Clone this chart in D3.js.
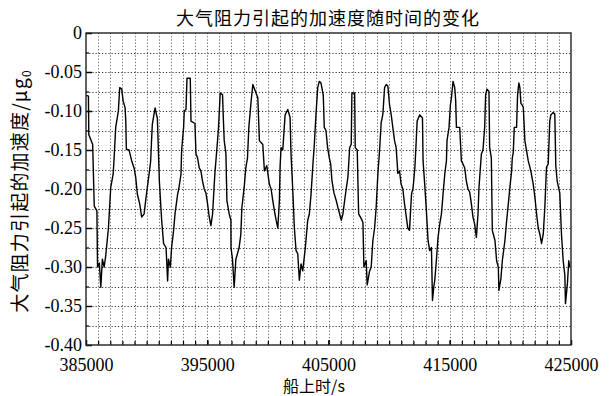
<!DOCTYPE html>
<html>
<head>
<meta charset="utf-8">
<script src="https://cdn.jsdelivr.net/npm/d3@7/dist/d3.min.js"></script>
<style>
  html, body { margin: 0; padding: 0; background: #fff; }
  svg { display: block; }
</style>
</head>
<body>
<svg id="chart" width="612" height="396"></svg>
<script>
// ---- data ----
const times = [
385050,385200,385230,385550,385680,385900,385950,386100,386220,386350,386500,386630,386850,387040,387240,387320,387450,387670,387780,387950,
388060,388225,388280,388330,388550,388770,388965,389100,389240,389430,389590,389790,389920,390060,390330,390400,390470,390610,390700,390800,
390885,391000,391050,391240,391400,391600,391680,391730,391800,391955,392060,392225,392340,392555,392650,392835,392885,393050,393105,393245,
393330,393600,393660,393985,394070,394200,394340,394480,394610,394753,394890,395025,395164,395300,395440,395520,395630,395850,395930,396070,
396260,396340,396400,396540,396620,396810,396950,396960,397080,397220,397360,397490,397630,397770,397855,398045,398180,398320,398430,398620,
398760,398975,399170,399300,399580,399715,399910,400125,400265,400405,400540,400680,400820,400950,401010,401090,401230,401420,401640,401830,
401910,402050,402185,402325,402465,402595,402735,402875,403090,403285,403420,403560,403700,403830,403970,404110,404240,404380,404570,404650,
404790,404930,405065,405180,405290,405450,405640,405780,405920,406050,406190,406330,406460,406600,406745,406875,406930,407155,407205,407370,
407485,407700,407840,407920,408110,408190,408390,408520,408660,408800,408930,409070,409210,409345,409485,409625,409755,409895,410035,410165,
410445,410580,410720,410860,410990,411130,411270,411540,411680,411845,411980,412120,412200,412310,412390,412530,412750,412800,412940,413080,
413210,413350,413490,413575,413680,413765,413900,414035,414175,414315,414445,414590,414725,414775,414940,415055,415140,415270,415410,415490,
415550,415820,415960,416095,416235,416370,416505,416645,416785,416915,417055,417195,417330,417410,417525,417610,417740,417880,417960,418070,
418235,418290,418430,418510,418595,418730,418865,419005,419055,419220,419335,419550,419690,419830,419960,420100,420160,420240,420320,420510,
420595,420700,420785,420870,421065,421145,421195,421475,421690,421885,422020,422160,422300,422430,422570,422710,422840,422980,423120,423250,
423335,423530,423665,423745,423860,423945,424075,424215,424355,424490,424545,424710,424815,424900
];
const accel = [
-0.080,-0.081,-0.130,-0.143,-0.222,-0.228,-0.300,-0.295,-0.326,-0.290,-0.300,-0.285,-0.250,-0.198,-0.181,-0.160,-0.121,-0.100,-0.070,-0.072,
-0.087,-0.096,-0.113,-0.149,-0.150,-0.164,-0.173,-0.185,-0.207,-0.219,-0.236,-0.232,-0.215,-0.198,-0.165,-0.140,-0.117,-0.104,-0.096,-0.104,
-0.109,-0.165,-0.190,-0.240,-0.270,-0.275,-0.300,-0.318,-0.290,-0.300,-0.275,-0.253,-0.232,-0.207,-0.200,-0.181,-0.151,-0.121,-0.100,-0.098,
-0.058,-0.058,-0.113,-0.116,-0.155,-0.160,-0.173,-0.177,-0.190,-0.200,-0.205,-0.219,-0.236,-0.247,-0.232,-0.210,-0.180,-0.138,-0.121,-0.077,
-0.079,-0.115,-0.138,-0.155,-0.215,-0.232,-0.240,-0.275,-0.290,-0.326,-0.290,-0.283,-0.275,-0.258,-0.224,-0.198,-0.173,-0.160,-0.121,-0.087,
-0.066,-0.075,-0.083,-0.138,-0.143,-0.177,-0.170,-0.194,-0.200,-0.215,-0.228,-0.240,-0.250,-0.215,-0.170,-0.147,-0.150,-0.105,-0.098,-0.108,
-0.155,-0.200,-0.250,-0.279,-0.283,-0.317,-0.296,-0.305,-0.275,-0.240,-0.232,-0.207,-0.172,-0.143,-0.104,-0.070,-0.062,-0.064,-0.080,-0.121,
-0.125,-0.147,-0.160,-0.168,-0.190,-0.205,-0.215,-0.224,-0.232,-0.240,-0.232,-0.215,-0.200,-0.185,-0.147,-0.143,-0.077,-0.077,-0.147,-0.150,
-0.232,-0.238,-0.243,-0.300,-0.292,-0.323,-0.305,-0.300,-0.266,-0.250,-0.224,-0.181,-0.151,-0.115,-0.104,-0.070,-0.066,-0.068,-0.092,-0.104,
-0.138,-0.147,-0.180,-0.177,-0.194,-0.200,-0.219,-0.250,-0.253,-0.207,-0.198,-0.173,-0.150,-0.113,-0.110,-0.105,-0.109,-0.164,-0.195,-0.230,
-0.266,-0.279,-0.275,-0.343,-0.326,-0.317,-0.291,-0.262,-0.245,-0.232,-0.207,-0.181,-0.164,-0.138,-0.121,-0.092,-0.083,-0.062,-0.070,-0.087,
-0.121,-0.121,-0.164,-0.168,-0.173,-0.190,-0.200,-0.204,-0.219,-0.236,-0.245,-0.262,-0.232,-0.198,-0.173,-0.155,-0.150,-0.121,-0.079,-0.072,
-0.075,-0.147,-0.160,-0.253,-0.258,-0.266,-0.292,-0.300,-0.330,-0.315,-0.292,-0.266,-0.241,-0.219,-0.198,-0.177,-0.160,-0.153,-0.121,-0.121,
-0.079,-0.064,-0.070,-0.090,-0.095,-0.121,-0.138,-0.164,-0.177,-0.194,-0.210,-0.232,-0.250,-0.258,-0.270,-0.258,-0.224,-0.172,-0.168,-0.113,
-0.105,-0.102,-0.104,-0.170,-0.190,-0.196,-0.205,-0.258,-0.292,-0.310,-0.347,-0.320,-0.292,-0.300
];
const xTickValues = [385000, 395000, 405000, 415000, 425000];
const xTickLabels = ["385000", "395000", "405000", "415000", "425000"];
const yTickValues = [0, -0.05, -0.10, -0.15, -0.20, -0.25, -0.30, -0.35, -0.40];
const yTickLabels = ["0", "-0.05", "-0.10", "-0.15", "-0.20", "-0.25", "-0.30", "-0.35", "-0.40"];
const titleText = "大气阻力引起的加速度随时间的变化";
const xLabel = "船上时/s";
const yLabel = "大气阻力引起的加速度/μg";
const yLabelSub = "0";

// ---- layout ----
const L = 86, R = 571, T = 33, B = 345;
const svg = d3.select("#chart");
const x = d3.scaleLinear().domain([385000, 425000]).range([L, R]);
const y = d3.scaleLinear().domain([-0.40, 0]).range([B, T]);

// grid
const gx = d3.range(386000, 425000, 1000);
const gy = d3.range(1, 16).map(i => -0.025 * i);
const grid = svg.append("g").attr("stroke", "#333").attr("stroke-width", 1)
  .attr("stroke-dasharray", "1.2,2").attr("fill", "none");
grid.selectAll("line.v").data(gx).join("line").attr("class", "v")
  .attr("x1", d => Math.round(x(d)) + 0.5).attr("x2", d => Math.round(x(d)) + 0.5)
  .attr("y1", T).attr("y2", B).attr("stroke", "#666");
grid.selectAll("line.h").data(gy).join("line").attr("class", "h")
  .attr("y1", d => Math.round(y(d)) + 0.5).attr("y2", d => Math.round(y(d)) + 0.5)
  .attr("x1", L).attr("x2", R);

// data line
const pts = times.map((t, i) => [t, accel[i]]);
svg.append("path").datum(pts)
  .attr("fill", "none").attr("stroke", "#000").attr("stroke-width", 1.4)
  .attr("stroke-linejoin", "round")
  .attr("d", d3.line().x(d => x(d[0])).y(d => y(d[1])));

// axes
const fontSerif = "'Liberation Serif', 'DejaVu Serif', serif";
const yAxis = d3.axisLeft(y).tickValues(yTickValues)
  .tickFormat((d, i) => yTickLabels[i]).tickSize(-6).tickPadding(4);
const gY = svg.append("g").attr("transform", `translate(${L},0)`).call(yAxis);
gY.select(".domain").remove();
gY.selectAll("text").attr("font-family", fontSerif).attr("font-size", 18).attr("fill", "#000");
gY.selectAll("line").attr("stroke", "#000").attr("stroke-width", 1.5);

const yMinor = d3.axisLeft(y).tickValues(d3.range(0, 8).map(i => -0.025 - 0.05 * i))
  .tickFormat("").tickSize(-3);
const gYm = svg.append("g").attr("transform", `translate(${L},0)`).call(yMinor);
gYm.select(".domain").remove();
gYm.selectAll("line").attr("stroke", "#000").attr("stroke-width", 1.2);

const xAxis = d3.axisBottom(x).tickValues(xTickValues)
  .tickFormat((d, i) => xTickLabels[i]).tickSize(-5).tickPadding(13);
const gX = svg.append("g").attr("transform", `translate(0,${B})`).call(xAxis);
gX.select(".domain").remove();
gX.selectAll("text").attr("font-family", fontSerif).attr("font-size", 18).attr("fill", "#000");
gX.selectAll("line").attr("stroke", "#000").attr("stroke-width", 1.5);

const xMinor = d3.axisBottom(x).tickValues(d3.range(386000, 425000, 1000))
  .tickFormat("").tickSize(-4);
const gXm = svg.append("g").attr("transform", `translate(0,${B})`).call(xMinor);
gXm.select(".domain").remove();
gXm.selectAll("line").attr("stroke", "#000").attr("stroke-width", 1.2);

// frame
svg.append("rect").attr("x", L).attr("y", T).attr("width", R - L).attr("height", B - T)
  .attr("fill", "none").attr("stroke", "#222").attr("stroke-width", 1.4);

// texts
const fontCJK = "'Noto Sans CJK SC', 'Noto Sans', sans-serif";
svg.append("text").attr("x", 328).attr("y", 25).attr("text-anchor", "middle")
  .attr("font-family", fontCJK).attr("font-size", 18).attr("letter-spacing", 1)
  .attr("fill", "#000").text(titleText);

svg.append("text").attr("x", 314).attr("y", 392).attr("text-anchor", "middle")
  .attr("font-family", fontCJK).attr("font-size", 16).attr("fill", "#000").text(xLabel);

const yl = svg.append("text").attr("transform", "translate(27,191) rotate(-90)")
  .attr("text-anchor", "middle").attr("font-family", fontCJK).attr("font-size", 19)
  .attr("letter-spacing", 1.2).attr("fill", "#000");
yl.append("tspan").text(yLabel);
yl.append("tspan").attr("font-size", 12).attr("dy", 4).text(yLabelSub);
</script>
</body>
</html>
